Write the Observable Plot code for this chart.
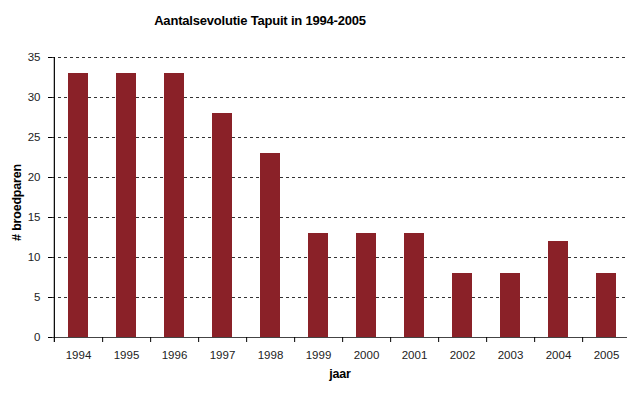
<!DOCTYPE html>
<html>
<head>
<meta charset="utf-8">
<script src="https://cdn.jsdelivr.net/npm/d3@7"></script>
<script src="https://cdn.jsdelivr.net/npm/@observablehq/plot@0.6"></script>
<style>
  html, body { margin: 0; padding: 0; background: #fff; }
  #chart svg { display: block; }
  #chart g[aria-label="text"] text { letter-spacing: -0.2px; }
</style>
</head>
<body>
<div id="chart"></div>
<script>
const years = [1994, 1995, 1996, 1997, 1998, 1999, 2000, 2001, 2002, 2003, 2004, 2005];
const values = [33, 33, 33, 28, 23, 13, 13, 13, 8, 8, 12, 8];
const yTicks = [0, 5, 10, 15, 20, 25, 30, 35];
const gridTicks = [5, 10, 15, 20, 25, 30, 35];
const title = "Aantalsevolutie Tapuit in 1994-2005";
const xLabel = "jaar";
const yLabel = "# broedparen";

const data = years.map((year, i) => ({year, value: values[i]}));

const W = 627, H = 414, ML = 52, MR = 0, MT = 57, MB = 77;
const xRange = [52.3, 632];
const step = (xRange[1] - xRange[0]) / years.length;
const font = "'Liberation Sans', Arial, Helvetica, sans-serif";

const plot = Plot.plot({
  width: W,
  height: H,
  marginLeft: ML,
  marginRight: MR,
  marginTop: MT,
  marginBottom: MB,
  style: {fontFamily: font, fontSize: "11.5px", color: "#222", background: "#fff"},
  x: {type: "band", domain: years, range: xRange, paddingInner: 0.586, paddingOuter: 0.293, align: 0.5},
  y: {domain: [0, 35]},
  marks: [
    Plot.ruleY(gridTicks, {stroke: "#333", strokeDasharray: "3,3", strokeWidth: 1}),
    Plot.barY(data, {x: "year", y: "value", fill: "#8a2128"}),
    Plot.ruleY([0], {stroke: "#444", strokeWidth: 1.2}),
    Plot.ruleX(years, {x: d => d, y1: 0, y2: 0, insetBottom: -5, dx: step / 2, stroke: "#000"}),
    Plot.ruleX([years[0]], {x: d => d, dx: -step / 2, stroke: "#000", strokeWidth: 1.2, insetBottom: -5}),
    Plot.axisY({ticks: yTicks, tickSize: 4, tickPadding: 8, label: null, tickFormat: d => String(d), stroke: "#000"}),
    Plot.axisX({tickSize: 0, tickPadding: 13, label: null, tickFormat: d => String(d)}),
    Plot.text([title], {frameAnchor: "top", textAnchor: "middle", dx: -80, dy: -33, lineAnchor: "bottom", fontWeight: "bold", fontSize: 13, fill: "#000"}),
    Plot.text([xLabel], {frameAnchor: "bottom", textAnchor: "middle", dy: 40, lineAnchor: "bottom", fontWeight: "bold", fontSize: 12.5, fill: "#000"}),
    Plot.text([yLabel], {frameAnchor: "left", textAnchor: "middle", lineAnchor: "middle", dx: -35.5, dy: 5, rotate: -90, fontWeight: "bold", fontSize: 12.5, fill: "#000"})
  ]
});
document.getElementById("chart").appendChild(plot);
</script>
</body>
</html>
